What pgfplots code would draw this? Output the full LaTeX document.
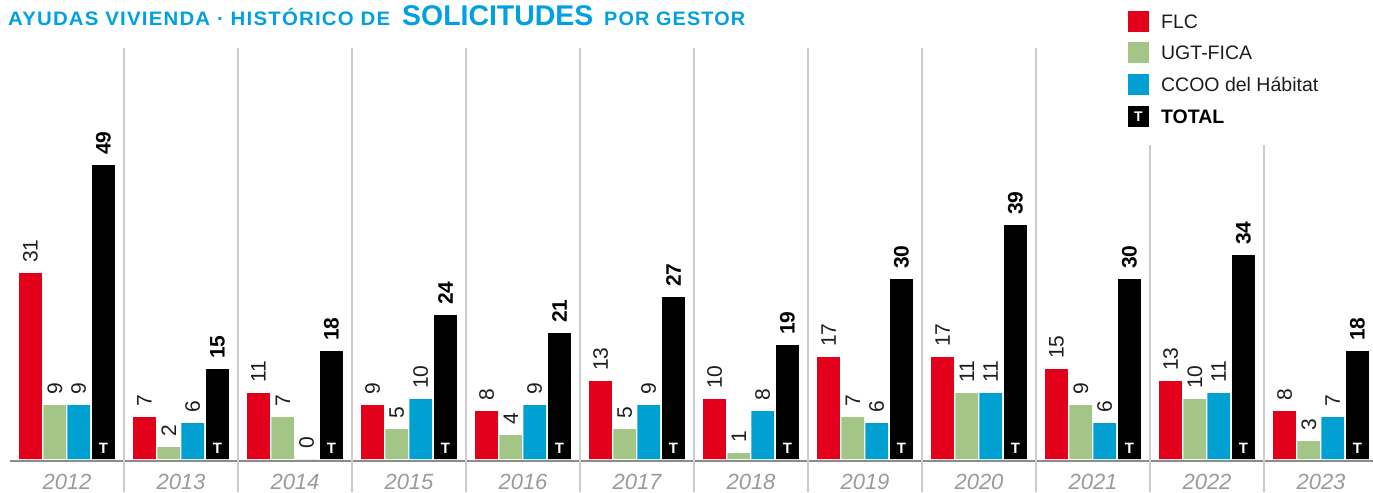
\documentclass[border=0pt]{standalone}
\usepackage{pgfplots}
\pgfplotsset{compat=1.18}
\usepackage{pgfplotstable}
\usepackage{fontspec}
\setmainfont{Liberation Sans}
\newfontfamily\titlesmall[FakeStretch=0.85, LetterSpace=5]{Liberation Sans}
\newfontfamily\titlebig[FakeStretch=0.9]{Liberation Sans}
\usepackage{graphicx}
\definecolor{flc}{HTML}{E2001A}
\definecolor{ugt}{HTML}{A3C585}
\definecolor{ccoo}{HTML}{00A0D2}
\definecolor{titleblue}{HTML}{00A0E2}
\definecolor{sepgray}{HTML}{CCCCCC}
\definecolor{yeargray}{HTML}{9A9A9A}
\definecolor{txt}{HTML}{1D1D1B}
\pgfplotstableread{
x  flc ugt ccoo total zero
0  31  9   9    49    0
1  7   2   6    15    0
2  11  7   0    18    0
3  9   5   10   24    0
4  8   4   9    21    0
5  13  5   9    27    0
6  10  1   8    19    0
7  17  7   6    30    0
8  17  11  11   39    0
9  15  9   6    30    0
10 13  10  11   34    0
11 8   3   7    18    0
}\datatable
\pgfplotsset{
  vallabel/.style={nodes near coords,
    every node near coord/.append style={rotate=90, anchor=west, inner xsep=10pt, inner ysep=0pt, font=\fontsize{21}{21}\selectfont, text=txt}},
}
\begin{document}
\begin{tikzpicture}
\begin{axis}[
  scale only axis, width=1363pt, height=461.1pt,
  xmin=-0.5, xmax=11.45614, ymin=-0.35, ymax=76.5,
  clip=false,
  axis x line=bottom, axis y line=none,
  x axis line style={-, draw=gray!90, line width=1.3pt},
  xtick={0,1,2,3,4,5,6,7,8,9,10,11},
  xticklabels={2012,2013,2014,2015,2016,2017,2018,2019,2020,2021,2022,2023},
  major tick length=0pt,
  ytick=\empty,
  xticklabel style={font=\fontsize{22}{22}\selectfont\itshape, text=yeargray, inner sep=0pt, anchor=north, yshift=-13pt},
  /pgf/number format/assume math mode=true,
]
% separators
\draw[sepgray, line width=1.5pt] (axis cs:0.5,68.5) -- (axis cs:0.5,-5.5);
\draw[sepgray, line width=1.5pt] (axis cs:1.5,68.5) -- (axis cs:1.5,-5.5);
\draw[sepgray, line width=1.5pt] (axis cs:2.5,68.5) -- (axis cs:2.5,-5.5);
\draw[sepgray, line width=1.5pt] (axis cs:3.5,68.5) -- (axis cs:3.5,-5.5);
\draw[sepgray, line width=1.5pt] (axis cs:4.5,68.5) -- (axis cs:4.5,-5.5);
\draw[sepgray, line width=1.5pt] (axis cs:5.5,68.5) -- (axis cs:5.5,-5.5);
\draw[sepgray, line width=1.5pt] (axis cs:6.5,68.5) -- (axis cs:6.5,-5.5);
\draw[sepgray, line width=1.5pt] (axis cs:7.5,68.5) -- (axis cs:7.5,-5.5);
\draw[sepgray, line width=1.5pt] (axis cs:8.5,68.5) -- (axis cs:8.5,-5.5);
\draw[sepgray, line width=1.5pt] (axis cs:9.5,52.33) -- (axis cs:9.5,-5.5);
\draw[sepgray, line width=1.5pt] (axis cs:10.5,52.33) -- (axis cs:10.5,-5.5);

% FLC
\addplot[ybar, bar width=0.2, bar shift=0, fill=flc, draw=none, vallabel]
  table[x expr=\thisrow{x}-0.32, y=flc] {\datatable};
% UGT-FICA
\addplot[ybar, bar width=0.2, bar shift=0, fill=ugt, draw=none, vallabel]
  table[x expr=\thisrow{x}-0.107, y=ugt] {\datatable};
% CCOO del Habitat
\addplot[ybar, bar width=0.2, bar shift=0, fill=ccoo, draw=none, vallabel]
  table[x expr=\thisrow{x}+0.103, y=ccoo] {\datatable};
% TOTAL
\addplot[ybar, bar width=0.2, bar shift=0, fill=black, draw=none, vallabel,
  every node near coord/.append style={font=\bfseries\fontsize{21}{21}\selectfont, text=black}]
  table[x expr=\thisrow{x}+0.32, y=total] {\datatable};
% T marks in total bars
\addplot[ybar, bar width=0.2, bar shift=0, fill=none, draw=none,
  nodes near coords={\textbf{T}},
  every node near coord/.append style={anchor=south, inner sep=0pt, yshift=5pt, text=white, font=\fontsize{15}{15}\selectfont}]
  table[x expr=\thisrow{x}+0.32, y=zero] {\datatable};

% title
\node[anchor=base west, inner sep=0pt, text=titleblue, font=\titlesmall\bfseries\fontsize{19.5}{19.5}\selectfont] at (axis cs:-0.5175,72.17) {\resizebox{382pt}{\height}{AYUDAS VIVIENDA · HISTÓRICO DE}};
\node[anchor=base west, inner sep=0pt, text=titleblue, font=\titlebig\bfseries\fontsize{28.5}{28.5}\selectfont] at (axis cs:2.9386,72.17) {\resizebox{191pt}{\height}{SOLICITUDES}};
\node[anchor=base west, inner sep=0pt, text=titleblue, font=\titlesmall\bfseries\fontsize{19.5}{19.5}\selectfont] at (axis cs:4.7105,72.17) {\resizebox{141pt}{\height}{POR GESTOR}};

% legend
\fill[flc] (axis cs:9.307,74.67) rectangle (axis cs:9.491,71.17);
\fill[ugt] (axis cs:9.307,69.5) rectangle (axis cs:9.491,66.0);
\fill[ccoo] (axis cs:9.307,64.17) rectangle (axis cs:9.491,60.67);
\fill[black] (axis cs:9.307,58.83) rectangle (axis cs:9.491,55.33);
\node[text=white, font=\bfseries\fontsize{14}{14}\selectfont, inner sep=0pt] at (axis cs:9.399,57.08) {T};
\node[anchor=base west, inner sep=0pt, text=txt, font=\fontsize{19.5}{19.5}\selectfont] at (axis cs:9.596,71.83) {FLC};
\node[anchor=base west, inner sep=0pt, text=txt, font=\fontsize{19.5}{19.5}\selectfont] at (axis cs:9.596,66.62) {UGT-FICA};
\node[anchor=base west, inner sep=0pt, text=txt, font=\fontsize{19.5}{19.5}\selectfont] at (axis cs:9.596,61.22) {CCOO del Hábitat};
\node[anchor=base west, inner sep=0pt, text=black, font=\bfseries\fontsize{19.5}{19.5}\selectfont] at (axis cs:9.596,56.0) {TOTAL};

\coordinate (bl) at (axis cs:-0.58772,-5.5);
\coordinate (tr) at (axis cs:11.45614,76.5);
\end{axis}
\pgfresetboundingbox
\useasboundingbox (bl) rectangle (tr);
\end{tikzpicture}
\end{document}
